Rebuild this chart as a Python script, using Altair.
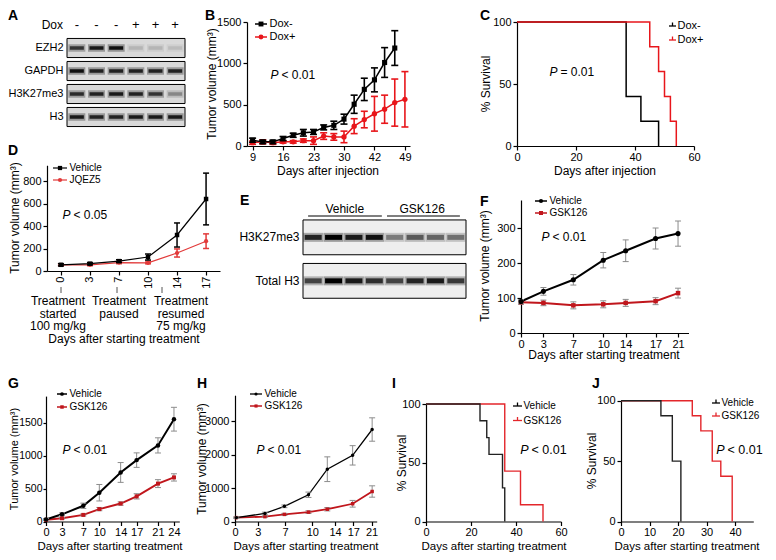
import json
import altair as alt
import pandas as pd

W, H = 760, 544
FONT = "Liberation Sans"
ONE = pd.DataFrame({"k": [0]})

# ---------------- data ----------------
# A: western blot (band intensities 0..1, lanes 1..6)
a_rows = ["EZH2", "GAPDH", "H3K27me3", "H3"]
a_dox = ["-", "-", "-", "+", "+", "+"]
a_ezh2 = [0.75, 0.9, 0.95, 0.15, 0.15, 0.12]
a_gapdh = [0.95, 0.85, 0.85, 0.85, 0.85, 0.85]
a_h3k27 = [0.8, 0.85, 0.9, 0.85, 0.75, 0.35]
a_h3 = [0.9, 0.85, 0.85, 0.9, 0.9, 0.9]

# B: tumor volume, measurement index with labelled days
b_labels = ["9", "16", "23", "30", "42", "49"]
b_neg_mean = [70, 50, 50, 90, 130, 160, 170, 225, 250, 325, 505, 685, 800, 1010, 1185]
b_neg_err = [25, 20, 20, 25, 25, 40, 30, 30, 50, 60, 110, 135, 145, 180, 210]
b_pos_mean = [40, 50, 40, 50, 50, 65, 65, 120, 110, 110, 240, 320, 390, 445, 525, 565]
b_pos_err = [20, 25, 20, 15, 15, 20, 45, 40, 40, 70, 90, 100, 210, 170, 285, 335]

# C: survival
c_neg_t = [0, 37, 42, 48]
c_neg_s = [100, 40, 20, 0]
c_pos_t = [0, 45, 48, 50, 52, 54]
c_pos_s = [100, 80, 60, 40, 20, 0]

# D
d_days = [0, 3, 7, 10, 14, 17]
d_veh = [55, 65, 88, 124, 320, 640]
d_veh_err = [10, 10, 12, 27, 107, 230]
d_jq = [55, 55, 75, 72, 160, 265]
d_jq_err = [8, 8, 10, 8, 36, 65]

# E: western blot (lanes 1..8)
e_rows = ["H3K27me3", "Total H3"]
e_h3k27 = [0.85, 1.0, 0.9, 0.95, 0.45, 0.6, 0.55, 0.5]
e_total = [0.7, 1.0, 0.9, 0.8, 0.7, 0.85, 0.9, 0.75]

# F
f_pos = [0, 3, 7, 11, 14, 18, 21]
f_labels = ["0", "3", "7", "10", "14", "17", "21"]
f_veh = [90, 119, 152, 208, 235, 270, 284]
f_veh_err = [5, 11, 15, 22, 31, 30, 36]
f_gsk = [88, 86, 79, 82, 86, 91, 114]
f_gsk_err = [6, 8, 10, 10, 10, 10, 14]

# G
g_days = [0, 3, 7, 10, 14, 17, 21, 24]
g_veh = [30, 109, 238, 436, 743, 930, 1153, 1550]
g_veh_err = [15, 20, 40, 125, 150, 110, 115, 180]
g_gsk = [25, 50, 100, 188, 272, 381, 574, 668]
g_gsk_err = [10, 12, 15, 25, 25, 40, 60, 55]

# H
h_pos = [0.2, 4.6, 7.6, 11.3, 14.2, 18.1, 21.1]
h_tick_pos = [0, 3.5, 7.7, 11.9, 15.4, 18.2, 21]
h_labels = ["0", "3", "7", "10", "14", "17", "21"]
h_veh = [116, 240, 454, 800, 1565, 1980, 2753]
h_veh_err = [20, 40, 40, 80, 370, 290, 350]
h_gsk = [116, 145, 213, 280, 367, 531, 898]
h_gsk_err = [15, 20, 30, 40, 50, 100, 170]

# I: survival
i_veh_t = [0, 24, 27, 28, 34, 35]
i_veh_s = [100, 85.7, 71.4, 57.1, 28.6, 0]
i_gsk_t = [0, 35, 42, 52]
i_gsk_s = [100, 42.9, 14.3, 0]

# J: survival
j_veh_t = [0, 14, 18, 21]
j_veh_s = [100, 87.5, 50, 0]
j_gsk_t = [0, 25, 28, 32, 35, 39]
j_gsk_s = [100, 87.5, 75, 50, 37.5, 0]

# ---------------- helpers ----------------
def lin(dom, rng):
    return alt.Scale(domain=dom, range=rng, nice=False, zero=False)


def axis_common(**kw):
    d = dict(title=None, grid=False, domainColor="black", domainWidth=1.2,
             tickColor="black", tickWidth=1.2, tickSize=4, labelFont=FONT,
             labelFontSize=11, labelColor="black", labelOverlap=False, labelFlush=False)
    d.update(kw)
    return d


def xaxis(yv, values=None, labels=None):
    d = axis_common(orient="bottom", offset=yv - H, labelPadding=1)
    if values is not None:
        d["values"] = values
    if labels is not None:
        d["labelExpr"] = f"{json.dumps(labels)}[indexof({json.dumps(values)}, datum.value)]"
    else:
        d["format"] = "d"
    return alt.Axis(**d)


def yaxis(xv, values, **kw):
    d = dict(orient="left", offset=-xv, values=values, labelPadding=2, format="d")
    d.update(kw)
    return alt.Axis(**axis_common(**d))


def fx(scale, axis, typ="quantitative"):
    return lambda f: alt.X(f, type=typ, scale=scale, axis=axis)


def fy(scale, axis):
    return lambda f: alt.Y(f, type="quantitative", scale=scale, axis=axis)


def series(X, Y, x, m, e, color, shape, msize, lw, ecolor, ew, cap):
    df = pd.DataFrame({"x": x, "y": m,
                       "lo": [a - b for a, b in zip(m, e)],
                       "hi": [a + b for a, b in zip(m, e)]})
    base = alt.Chart(df)
    return [
        base.mark_line(color=color, strokeWidth=lw).encode(x=X("x"), y=Y("y")),
        base.mark_rule(color=ecolor, strokeWidth=ew).encode(x=X("x"), y=Y("lo"), y2="hi"),
        base.mark_rule(color=ecolor, strokeWidth=ew, xOffset=-cap, x2Offset=cap).encode(
            x=X("x"), x2="x", y=Y("hi")),
        base.mark_rule(color=ecolor, strokeWidth=ew, xOffset=-cap, x2Offset=cap).encode(
            x=X("x"), x2="x", y=Y("lo")),
        base.mark_point(shape=shape, filled=True, size=msize, color=color, opacity=1).encode(
            x=X("x"), y=Y("y")),
    ]


def km(X, Y, t, s, color, lw=1.5):
    df = pd.DataFrame({"t": t, "s": s})
    return alt.Chart(df).mark_line(interpolate="step-after", color=color, strokeWidth=lw).encode(
        x=X("t"), y=Y("s"))


def txt(s, x, y, size=12, align="center", baseline="middle", weight="normal",
        style="normal", angle=None, color="black"):
    kw = dict(text=s, font=FONT, fontSize=size, align=align, baseline=baseline,
              fontWeight=weight, fontStyle=style, color=color)
    if angle is not None:
        kw["angle"] = angle
    return alt.Chart(ONE).mark_text(**kw).encode(x=alt.value(x), y=alt.value(y))


def rule(x0, x1, y0, y1, color="black", w=1.2):
    return alt.Chart(ONE).mark_rule(color=color, strokeWidth=w).encode(
        x=alt.value(x0), x2=alt.value(x1), y=alt.value(y0), y2=alt.value(y1))


def dot(x, y, shape, size, color):
    return alt.Chart(ONE).mark_point(shape=shape, filled=True, size=size, color=color,
                                      opacity=1).encode(x=alt.value(x), y=alt.value(y))


def ptext(x, y, rest, size=12):
    return [txt("P", x - 1.5, y, size, align="right", style="italic"),
            txt(rest, x + 1.5, y, size, align="left")]


def leg_g(x0, x1, y, color, shape, size, label, fs=10, lw=1.5):
    return [rule(x0, x1, y, y, color, lw), dot((x0 + x1) / 2, y, shape, size, color),
            txt(label, x1 + 2.5, y, fs, align="left")]


def leg_km(x0, x1, y, color, label, fs=10, lw=1.3):
    xm = (x0 + x1) / 2
    return [rule(x0, x1, y, y, color, lw), rule(xm, xm, y - 3.5, y, color, lw),
            txt(label, x1 + 1.5, y, fs, align="left")]


def letter(s, x, y):
    return txt(s, x, y, 14, align="left", baseline="alphabetic", weight="bold")


def blot(rows, lanes_vals, xr, yr, pin, pout, fill, bw, bth, lfs=12):
    n = len(lanes_vals[0])
    xs = lin([0.5, n + 0.5], xr)
    ys = alt.Scale(type="band", domain=rows, range=yr, paddingInner=pin, paddingOuter=pout)
    yax = alt.Axis(orient="left", offset=-xr[0], domain=False, ticks=False, labelPadding=4,
                   labelFont=FONT, labelFontSize=lfs, labelColor="black", title=None, grid=False)
    Xb = lambda f: alt.X(f, type="quantitative", scale=xs, axis=None)
    Yb = lambda: alt.Y("row:N", scale=ys, axis=yax)
    bg = pd.DataFrame({"row": rows, "x0": [0.5] * len(rows), "x1": [n + 0.5] * len(rows)})
    recs = []
    for r, vals in zip(rows, lanes_vals):
        for i, v in enumerate(vals):
            recs.append({"row": r, "lane": i + 1, "v": v})
    bd = pd.DataFrame(recs)
    cs = alt.Scale(domain=[0, 1], range=[fill, "#000000"])
    layers = [
        alt.Chart(bg).mark_rect(fill=fill, stroke="black", strokeWidth=1).encode(
            x=Xb("x0"), x2="x1", y=Yb()),
        alt.Chart(bd).mark_tick(orient="horizontal", size=bw + 3, thickness=bth + 4,
                                opacity=0.35).encode(
            x=Xb("lane"), y=Yb(), color=alt.Color("v:Q", scale=cs, legend=None)),
        alt.Chart(bd).mark_tick(orient="horizontal", size=bw, thickness=bth, opacity=1).encode(
            x=Xb("lane"), y=Yb(), color=alt.Color("v:Q", scale=cs, legend=None)),
    ]
    return layers, Xb


panels = []
ann = []

# ---------------- A ----------------
a_layers, XA = blot(a_rows, [a_ezh2, a_gapdh, a_h3k27, a_h3], [59, 177], [28.5, 120.5],
                    0.17, 0.085, "#d9d9d9", 14, 3.5, lfs=11)
a_sign = pd.DataFrame({"lane": list(range(1, 7)), "s": a_dox})
a_layers.append(alt.Chart(a_sign).mark_text(font=FONT, fontSize=13, color="black").encode(
    x=XA("lane"), y=alt.value(17), text="s:N"))
panels.append(alt.layer(*a_layers))
ann += [letter("A", 0, 12), txt("Dox", 55, 17, 12, align="right")]

# ---------------- B ----------------
XB = fx(lin([-0.55, 15.5], [239, 402]), xaxis(138, [0, 3, 6, 9, 12, 15], b_labels))
YB = fy(lin([0, 1500], [138, 14]), yaxis(239, [0, 500, 1000, 1500]))
red_b = "#e8161b"
b_layers = series(XB, YB, list(range(16)), b_pos_mean, b_pos_err, red_b, "circle", 28, 1.5,
                  red_b, 1.6, 3.5)
b_layers += series(XB, YB, list(range(15)), b_neg_mean, b_neg_err, "black", "square", 26, 1.5,
                   "black", 1.6, 3.5)
panels.append(alt.layer(*b_layers))
ann += [letter("B", 197, 12)]
ann += leg_g(247, 259, 16, "black", "square", 24, "Dox-", 11)
ann += leg_g(247, 259, 29, red_b, "circle", 24, "Dox+", 11)
ann += ptext(272, 67, "< 0.01")
ann += [txt("Tumor volume (mm³)", 204, 76, 12, angle=270),
        txt("Days after injection", 320, 163, 12)]

# ---------------- C ----------------
XC = fx(lin([0, 60], [509, 686]), xaxis(138, [0, 20, 40, 60]))
YC = fy(lin([0, 100], [138, 14]), yaxis(509, [0, 50, 100]))
panels.append(alt.layer(km(XC, YC, c_neg_t, c_neg_s, "black"),
                        km(XC, YC, c_pos_t, c_pos_s, red_b)))
ann += [letter("C", 472, 12)]
ann += leg_km(661, 668, 18, "black", "Dox-", 11)
ann += leg_km(661, 668, 32, red_b, "Dox+", 11)
ann += ptext(551, 64, "= 0.01")
ann += [txt("% Survival", 478, 76, 12, angle=270),
        txt("Days after injection", 597, 163, 12)]

# ---------------- D ----------------
XD = fx(alt.Scale(type="point", domain=d_days, range=[39, 212], padding=0.48),
        xaxis(263), typ="ordinal")
YD = fy(lin([0, 940], [263, 157.25]), yaxis(39, [0, 200, 400, 600, 800]))
red_d = "#e23a3a"
d_layers = series(XD, YD, d_days, d_jq, d_jq_err, red_d, "circle", 18, 1.2, red_d, 1.5, 3)
d_layers += series(XD, YD, d_days, d_veh, d_veh_err, "black", "square", 20, 1.2, "black", 1.5, 3)
panels.append(alt.layer(*d_layers))
ann += [letter("D", 0, 147)]
ann += leg_g(45, 59, 160, "black", "square", 18, "Vehicle", 10, 1.2)
ann += leg_g(45, 59, 172, red_d, "circle", 18, "JQEZ5", 10, 1.2)
ann += ptext(64, 207, "< 0.05")
ann += [rule(53, 53, 279, 285, "#555", 1), rule(109, 109, 279, 285, "#555", 1),
        rule(154, 154, 279, 285, "#555", 1)]
for cx, lines in [(50, ["Treatment", "started", "100 mg/kg"]),
                  (111, ["Treatment", "paused"]),
                  (173, ["Treatment", "resumed", "75 mg/kg"])]:
    for k, s in enumerate(lines):
        ann.append(txt(s, cx, 293 + 12.5 * k, 12))
ann += [txt("Tumor volume (mm³)", 6.5, 210, 12, angle=270),
        txt("Days after starting treatment", 116, 331, 12)]

# ---------------- E ----------------
e_layers, XE = blot(e_rows, [e_h3k27, e_total], [295, 458], [207.6, 294.6],
                    0.2, 0.1, "#eeeeee", 17, 5)
e_hdr = pd.DataFrame({"a": [0.75, 4.62], "b": [4.37, 8.2], "c": [2.55, 6.35],
                      "lab": ["Vehicle", "GSK126"]})
e_layers.append(alt.Chart(e_hdr).mark_rule(color="black", strokeWidth=1.2).encode(
    x=XE("a"), x2="b", y=alt.value(208)))
e_layers.append(alt.Chart(e_hdr).mark_text(font=FONT, fontSize=12, color="black",
                                           baseline="alphabetic").encode(
    x=XE("c"), y=alt.value(205), text="lab:N"))
panels.append(alt.layer(*e_layers))
ann += [letter("E", 232, 197)]

# ---------------- F ----------------
XF = fx(lin([0, 22.4], [513, 680.5]), xaxis(325, f_pos, f_labels))
YF = fy(lin([0, 380], [325, 192]), yaxis(513, [0, 100, 200, 300]))
red_f = "#c0161c"
f_layers = series(XF, YF, f_pos, f_gsk, f_gsk_err, red_f, "square", 20, 2, "#8c8c8c", 1, 3)
f_layers += series(XF, YF, f_pos, f_veh, f_veh_err, "black", "circle", 26, 2, "#8c8c8c", 1, 3)
panels.append(alt.layer(*f_layers))
ann += [letter("F", 472, 198)]
ann += leg_g(527, 539, 193, "black", "circle", 18, "Vehicle", 10, 1.5)
ann += leg_g(527, 539, 205, red_f, "square", 16, "GSK126", 10, 1.5)
ann += ptext(543, 229, "< 0.01")
ann += [txt("Tumor volume (mm³)", 477, 258, 12, angle=270),
        txt("Days after starting treatment", 596, 347, 12)]

# ---------------- row 3 geometry ----------------
R3 = 513.5        # x axis line of row 3 panels
R3T = 538.5       # x title centre of row 3 panels

# ---------------- G ----------------
XG = fx(lin([0, 25], [38, 171.3]), xaxis(R3, g_days))
YG = fy(lin([0, 1900], [R3, 388.1]),
        yaxis(38, [0, 500, 1000, 1500], labelFontSize=10.5, labelPadding=1, tickSize=3))
g_layers = series(XG, YG, g_days, g_gsk, g_gsk_err, red_f, "square", 16, 2, "#8c8c8c", 1, 3)
g_layers += series(XG, YG, g_days, g_veh, g_veh_err, "black", "circle", 20, 2, "#8c8c8c", 1, 3)
panels.append(alt.layer(*g_layers))
ann += [letter("G", 0, 380)]
ann += leg_g(49, 59, 386, "black", "circle", 14, "Vehicle", 10, 1.5)
ann += leg_g(49, 59, 399, red_f, "square", 12, "GSK126", 10, 1.5)
ann += ptext(64, 442, "< 0.01")
ann += [txt("Tumor volume (mm³)", 6.5, 451, 11, angle=270),
        txt("Days after starting treatment", 102, R3T, 11.5)]

# ---------------- H ----------------
XH = fx(lin([0, 21.8], [227, 368.7]), xaxis(R3, h_tick_pos, h_labels))
YH = fy(lin([0, 3780], [R3, 387.2]), yaxis(227, [0, 1000, 2000, 3000]))
h_layers = series(XH, YH, h_pos, h_gsk, h_gsk_err, red_f, "square", 12, 1.8, "#8c8c8c", 1, 3)
h_layers += series(XH, YH, h_pos, h_veh, h_veh_err, "black", "circle", 12, 1.3, "#8c8c8c", 1, 3)
panels.append(alt.layer(*h_layers))
ann += [letter("H", 189, 380)]
ann += leg_g(242, 254, 386, "black", "circle", 10, "Vehicle", 10, 1.3)
ann += leg_g(242, 254, 398, red_f, "square", 10, "GSK126", 10, 1.5)
ann += ptext(258, 442, "< 0.01")
ann += [txt("Tumor volume (mm³)", 194, 451, 12, angle=270),
        txt("Days after starting treatment", 298, R3T, 11.5)]

# ---------------- I ----------------
red_k = "#e3262b"
XI = fx(lin([0, 60], [418, 553]), xaxis(R3, [0, 20, 40, 60]))
YI = fy(lin([0, 100], [R3, 396]), yaxis(418, [0, 50, 100]))
panels.append(alt.layer(km(XI, YI, i_gsk_t, i_gsk_s, red_k, 1.4),
                        km(XI, YI, i_veh_t, i_veh_s, "#222222", 1.4)))
ann += [letter("I", 384, 380)]
ann += leg_km(505, 514, 398, "black", "Vehicle", 10)
ann += leg_km(505, 514, 412.5, red_k, "GSK126", 10)
ann += ptext(522, 442, "< 0.01", 12.5)
ann += [txt("% Survival", 394, 455, 12, angle=270),
        txt("Days after starting treatment", 486, R3T, 11.5)]

# ---------------- J ----------------
XJ = fx(lin([0, 46.4], [613, 745.3]), xaxis(R3, [0, 10, 20, 30, 40]))
YJ = fy(lin([0, 100], [R3, 392.7]), yaxis(613, [0, 50, 100]))
panels.append(alt.layer(km(XJ, YJ, j_gsk_t, j_gsk_s, red_k, 1.4),
                        km(XJ, YJ, j_veh_t, j_veh_s, "#222222", 1.4)))
ann += [letter("J", 584, 380)]
ann += leg_km(704, 712, 395, "black", "Vehicle", 10)
ann += leg_km(704, 712, 408, red_k, "GSK126", 10)
ann += ptext(718, 442, "< 0.01", 12.5)
ann += [txt("% Survival", 584, 453, 12, angle=270),
        txt("Days after starting treatment", 679, R3T, 11.5)]

chart = (
    alt.layer(*panels, *ann)
    .resolve_scale(x="independent", y="independent", color="independent")
    .properties(width=W, height=H, autosize=alt.AutoSizeParams(type="none"), padding=0)
    .configure_view(stroke=None)
)
chart.save("out.html", embed_options={"renderer": "svg", "actions": False})
